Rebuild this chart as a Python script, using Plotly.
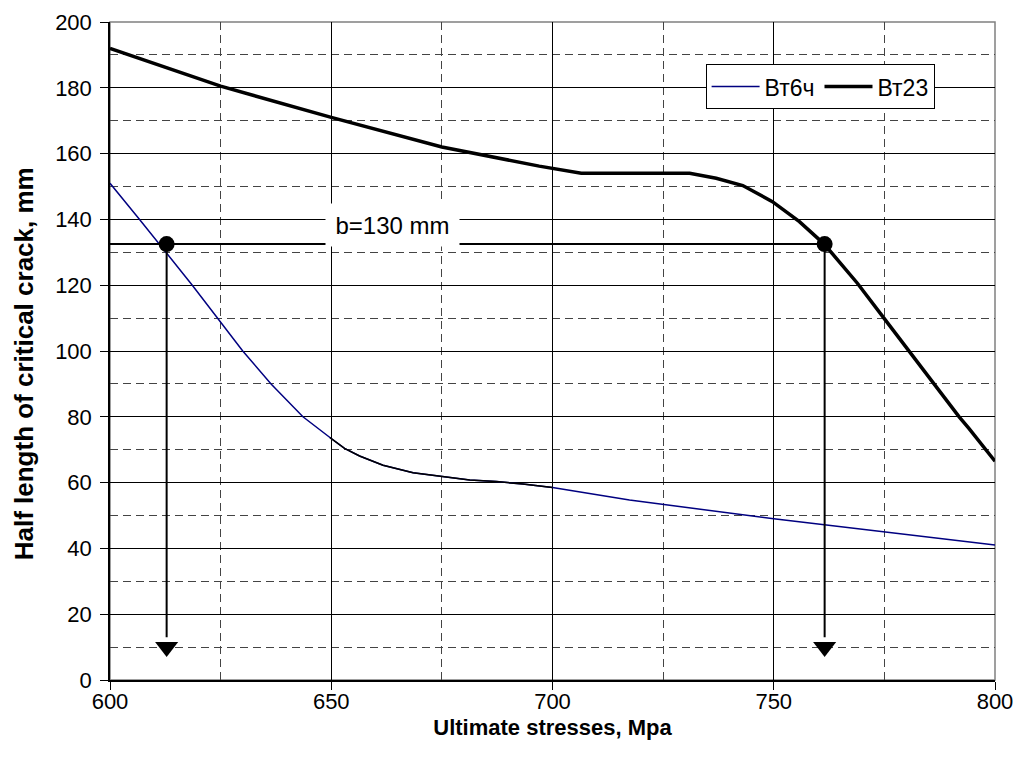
import plotly.graph_objects as go

# Data
stress_vt6 = [600, 606.5, 618.6, 624.2, 630, 636.4, 643.6, 649.7, 653, 656.4,
              661.7, 668.5, 674.5, 681.3, 687.3, 693.3, 700, 717.4, 750, 775, 800]
crack_vt6 = [151, 140.3, 120, 110, 100, 90, 80, 73.7, 70.4, 68.1,
             65.3, 63, 62, 60.8, 60.3, 59.6, 58.5, 54.7, 49, 45, 41]

stress_vt23 = [600, 625, 650, 675, 697, 706.5, 731, 737, 743, 749.7, 755.8, 761.4,
               765, 768.9, 774.9, 780.6, 785.9, 791.9, 794.1, 800]
crack_vt23 = [192, 180.5, 171, 162, 156.2, 154, 154, 152.5, 150.3, 145.4, 139.3, 132.5,
              126.8, 120.6, 110, 99.8, 90.7, 80, 76.5, 66.5]

b_level = 132.5
crit_stress = [612.8, 761.5]
arrow_tip_level = 10
label_text = "b=130 mm"
label_pos = (663.8, 138.3)

x_ticks = [600, 650, 700, 750, 800]
y_ticks = [0, 20, 40, 60, 80, 100, 120, 140, 160, 180, 200]

FONT = "Liberation Sans, Arial, sans-serif"

fig = go.Figure()

fig.add_trace(go.Scatter(x=stress_vt6, y=crack_vt6, mode="lines", name="Вт6ч",
                         line=dict(color="#000080", width=1.5)))
# dark segment of the thin curve
seg = [(x, y) for x, y in zip(stress_vt6, crack_vt6) if 649 <= x <= 700.5]
fig.add_trace(go.Scatter(x=[p[0] for p in seg], y=[p[1] for p in seg], mode="lines",
                         line=dict(color="black", width=1.5), showlegend=False,
                         hoverinfo="skip"))
fig.add_trace(go.Scatter(x=stress_vt23, y=crack_vt23, mode="lines", name="Вт23",
                         line=dict(color="black", width=3.5)))

# horizontal level line
fig.add_trace(go.Scatter(x=[stress_vt6[0], crit_stress[1]], y=[b_level, b_level],
                         mode="lines", line=dict(color="black", width=2),
                         showlegend=False, hoverinfo="skip"))
# vertical drop lines and arrow heads
for xc in crit_stress:
    fig.add_trace(go.Scatter(x=[xc, xc], y=[b_level, arrow_tip_level + 3],
                             mode="lines", line=dict(color="black", width=2),
                             showlegend=False, hoverinfo="skip"))
fig.add_trace(go.Scatter(x=crit_stress, y=[arrow_tip_level] * len(crit_stress),
                         mode="markers",
                         marker=dict(symbol="triangle-down", size=20, color="black"),
                         showlegend=False, hoverinfo="skip"))
fig.add_trace(go.Scatter(x=crit_stress, y=[b_level] * len(crit_stress),
                         mode="markers",
                         marker=dict(symbol="circle", size=16, color="black"),
                         showlegend=False, hoverinfo="skip"))

fig.add_annotation(x=label_pos[0], y=label_pos[1], text=label_text, showarrow=False,
                   bgcolor="white", width=131, height=40,
                   font=dict(family=FONT, size=24, color="black"))

# y axis title placed as a rotated annotation
fig.add_annotation(xref="paper", yref="paper", x=-0.097, y=0.48,
                   xanchor="center", yanchor="middle", textangle=-90,
                   text="<b>Half length of critical crack, mm</b>", showarrow=False,
                   font=dict(family=FONT, size=26, color="black"))

# gray frame on top/right
fig.add_shape(type="rect", xref="paper", yref="paper", x0=0, y0=0, x1=1, y1=1,
              line=dict(color="#808080", width=1.5), layer="below")

fig.update_layout(
    width=1020, height=762,
    margin=dict(l=110, r=25, t=22, b=82),
    paper_bgcolor="white", plot_bgcolor="white",
    font=dict(family=FONT, size=22, color="black"),
    showlegend=True,
    legend=dict(x=0.673, y=0.936, xanchor="left", yanchor="top",
                orientation="h", bgcolor="white", bordercolor="black",
                borderwidth=1, font=dict(size=23), itemwidth=48,
                tracegroupgap=0),
)

fig.update_xaxes(
    range=[600, 800], tickvals=x_ticks, ticks="outside", ticklen=8,
    tickcolor="black", showline=True, linecolor="black", linewidth=1.5,
    showgrid=True, gridcolor="black", gridwidth=1, zeroline=False,
    tickfont=dict(size=22), automargin=False, ticklabelstandoff=-7,
    minor=dict(dtick=25, tick0=600, showgrid=True, gridcolor="#444444",
               griddash="8px,5px", gridwidth=1, ticks=""),
    title=dict(text="<b>Ultimate stresses, Mpa</b>", font=dict(size=22), standoff=6),
)
fig.update_yaxes(
    range=[0, 200], tickvals=y_ticks, ticks="outside", ticklen=8,
    tickcolor="black", showline=True, linecolor="black", linewidth=1.5,
    showgrid=True, gridcolor="black", gridwidth=1, zeroline=False,
    tickfont=dict(size=22), automargin=False, ticklabelstandoff=4,
    minor=dict(dtick=10, tick0=0, showgrid=True, gridcolor="#444444",
               griddash="8px,5px", gridwidth=1, ticks=""),
)

fig.write_html("out.html", config={"displayModeBar": False})

# remove the browser's default page margin so the figure sits at the window origin
with open("out.html", "r", encoding="utf-8") as f:
    html = f.read()
html = html.replace("<body>", '<body style="margin:0;padding:0;">', 1)
with open("out.html", "w", encoding="utf-8") as f:
    f.write(html)
